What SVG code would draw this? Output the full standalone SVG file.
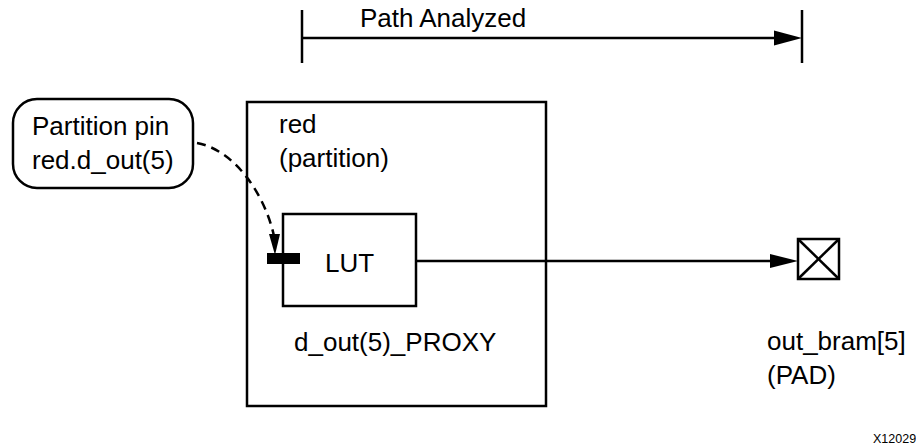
<svg xmlns="http://www.w3.org/2000/svg" width="916" height="447" viewBox="0 0 916 447">
<style>
.ln{stroke:#000;stroke-width:2.5;fill:none}
.bx{stroke:#000;stroke-width:2.5;fill:#fff}
.t{font-family:"Liberation Sans",Arial,sans-serif;font-size:26px;fill:#000}
.s{font-family:"Liberation Sans",Arial,sans-serif;font-size:12.5px;fill:#000}
</style>
<rect width="916" height="447" fill="#fff"/>
<g id="path-analyzed">
<line class="ln" x1="302" y1="10" x2="302" y2="63"/>
<line class="ln" x1="802" y1="10" x2="802" y2="63"/>
<line class="ln" x1="302" y1="38" x2="776" y2="38"/>
<polygon points="774,30.5 802,38 774,45.5" fill="#000"/>
<text class="t" x="360" y="27">Path Analyzed</text>
</g>
<g id="partition-pin-label">
<rect class="bx" x="13" y="99" width="180" height="89" rx="24"/>
<text class="t" x="32" y="135">Partition pin</text>
<text class="t" x="32" y="169">red.d_out(5)</text>
</g>
<g id="red-partition">
<rect class="bx" x="247" y="102" width="299" height="304"/>
<text class="t" x="279" y="133">red</text>
<text class="t" x="279" y="167">(partition)</text>
<text class="t" x="294" y="351">d_out(5)_PROXY</text>
</g>
<g id="lut">
<rect class="bx" x="283" y="214" width="133" height="92"/>
<text class="t" x="349.5" y="272" text-anchor="middle">LUT</text>
<rect x="267" y="253" width="33" height="11" fill="#000"/>
</g>
<g id="pad">
<rect class="bx" x="798" y="239" width="41" height="40"/>
<line class="ln" x1="798" y1="239" x2="839" y2="279"/>
<line class="ln" x1="839" y1="239" x2="798" y2="279"/>
<text class="t" x="767" y="350">out_bram[5]</text>
<text class="t" x="767" y="384">(PAD)</text>
</g>
<g id="connectors">
<path class="ln" d="M197,143 C235,150 265,195 274,236" stroke-dasharray="9,6"/>
<polygon points="269,234 280,234 275,255" fill="#000"/>
<line class="ln" x1="416" y1="261" x2="772" y2="261"/>
<polygon points="770,254 798,261 770,268" fill="#000"/>
</g>
<text class="s" x="873" y="443">X12029</text>
</svg>
